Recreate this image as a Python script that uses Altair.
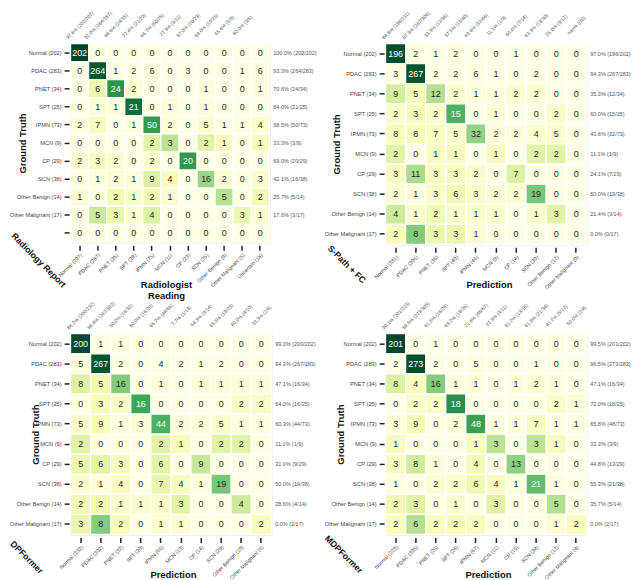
import altair as alt
import pandas as pd

FONT = "Liberation Sans"
NAME_FONT = "Liberation Sans Narrow, Liberation Sans"

ROW_NAMES = ["Normal (202)", "PDAC (283)", "PNET (34)", "SPT (25)", "IPMN (73)", "MCN (9)",
             "CP (29)", "SCN (38)", "Other Benign (14)", "Other Malignant (17)"]

YLGN_STOPS = [0, 0.125, 0.25, 0.375, 0.5, 0.625, 0.75, 0.875, 1]
YLGN_COLORS = ["#ffffe5", "#f7fcb9", "#d9f0a3", "#addd8e", "#78c679",
               "#41ab5d", "#238443", "#006837", "#004529"]

# ---------------- Panel 1: Radiology Report ----------------
p1_rows = ROW_NAMES + [" "]
p1_cols = ["Normal (207)", "PDAC (287)", "PNET (35)", "SPT (29)", "IPMN (75)", "MCN (11)",
           "CP (23)", "SCN (25)", "Other Benign (9)", "Other Malignant (5)", "Uncertain (18)"]
p1_values = [
    [202, 0, 0, 0, 0, 0, 0, 0, 0, 0, 0],
    [0, 264, 1, 2, 6, 0, 3, 0, 0, 1, 6],
    [0, 6, 24, 2, 0, 0, 0, 1, 0, 0, 1],
    [0, 1, 1, 21, 0, 1, 0, 1, 0, 0, 0],
    [2, 7, 0, 1, 50, 2, 0, 5, 1, 1, 4],
    [0, 0, 0, 0, 2, 3, 0, 2, 1, 0, 1],
    [2, 3, 2, 0, 2, 0, 20, 0, 0, 0, 0],
    [0, 1, 2, 1, 9, 4, 0, 16, 2, 0, 3],
    [1, 0, 2, 1, 2, 1, 0, 0, 5, 0, 2],
    [0, 5, 3, 1, 4, 0, 0, 0, 0, 3, 1],
    [0, 0, 0, 0, 0, 0, 0, 0, 0, 0, 0],
]
p1_recall = ["100.0% (202/202)", "93.3% (264/283)", "70.6% (24/34)", "84.0% (21/25)",
             "68.5% (50/73)", "33.3% (3/9)", "69.0% (20/29)", "42.1% (16/38)",
             "35.7% (5/14)", "17.6% (3/17)"]
p1_precision = ["97.6% (202/207)", "92.0% (264/287)", "68.6% (24/35)", "72.4% (21/29)",
                "66.7% (50/75)", "27.3% (3/11)", "87.0% (20/23)", "64.0% (16/25)",
                "55.6% (5/9)", "60.0% (3/5)"]

# ---------------- Panel 2: S-Path + FC ----------------
p2_cols = ["Normal (231)", "PDAC (306)", "PNET (36)", "SPT (40)", "IPMN (46)", "MCN (9)",
           "CP (14)", "SCN (30)", "Other Benign (12)", "Other Malignant (0)"]
p2_values = [
    [196, 2, 1, 2, 0, 0, 1, 0, 0, 0],
    [3, 267, 2, 2, 6, 1, 0, 2, 0, 0],
    [9, 5, 12, 2, 1, 1, 2, 2, 0, 0],
    [2, 3, 2, 15, 0, 1, 0, 0, 2, 0],
    [8, 8, 7, 5, 32, 2, 2, 4, 5, 0],
    [2, 0, 1, 1, 0, 1, 0, 2, 2, 0],
    [3, 11, 3, 3, 2, 0, 7, 0, 0, 0],
    [2, 1, 3, 6, 3, 2, 2, 19, 0, 0],
    [4, 1, 2, 1, 1, 1, 0, 1, 3, 0],
    [2, 8, 3, 3, 1, 0, 0, 0, 0, 0],
]
p2_recall = ["97.0% (196/202)", "94.3% (267/283)", "35.3% (12/34)", "60.0% (15/25)",
             "43.8% (32/73)", "11.1% (1/9)", "24.1% (7/29)", "50.0% (19/38)",
             "21.4% (3/14)", "0.0% (0/17)"]
p2_precision = ["84.8% (196/231)", "87.3% (267/306)", "33.3% (12/36)", "37.5% (15/40)",
                "69.6% (32/46)", "11.1% (1/9)", "50.0% (7/14)", "63.3% (19/30)",
                "25.0% (3/12)", "nan% (0/0)"]

# ---------------- Panel 3: DPFormer ----------------
p3_cols = ["Normal (232)", "PDAC (302)", "PNET (32)", "SPT (20)", "IPMN (66)", "MCN (13)",
           "CP (14)", "SCN (29)", "Other Benign (10)", "Other Malignant (6)"]
p3_values = [
    [200, 1, 1, 0, 0, 0, 0, 0, 0, 0],
    [5, 267, 2, 0, 4, 2, 1, 2, 0, 0],
    [8, 5, 16, 0, 1, 0, 1, 1, 1, 1],
    [0, 3, 2, 16, 0, 0, 0, 0, 2, 2],
    [5, 9, 1, 3, 44, 2, 2, 5, 1, 1],
    [2, 0, 0, 0, 2, 1, 0, 2, 2, 0],
    [5, 6, 3, 0, 6, 0, 9, 0, 0, 0],
    [2, 1, 4, 0, 7, 4, 1, 19, 0, 0],
    [2, 2, 1, 1, 1, 3, 0, 0, 4, 0],
    [3, 8, 2, 0, 1, 1, 0, 0, 0, 2],
]
p3_recall = ["99.0% (200/202)", "94.3% (267/283)", "47.1% (16/34)", "64.0% (16/25)",
             "60.3% (44/73)", "11.1% (1/9)", "31.0% (9/29)", "50.0% (19/38)",
             "28.6% (4/14)", "0.0% (2/17)"]
p3_precision = ["86.2% (200/232)", "88.4% (267/302)", "50.0% (16/32)", "80.0% (16/20)",
                "66.7% (44/66)", "7.7% (1/13)", "64.3% (9/14)", "65.5% (19/29)",
                "40.0% (4/10)", "33.3% (2/6)"]

# ---------------- Panel 4: MDPFormer ----------------
p4_cols = ["Normal (223)", "PDAC (305)", "PNET (26)", "SPT (26)", "IPMN (67)", "MCN (11)",
           "CP (16)", "SCN (34)", "Other Benign (12)", "Other Malignant (4)"]
p4_values = [
    [201, 0, 1, 0, 0, 0, 0, 0, 0, 0],
    [2, 273, 2, 0, 5, 0, 0, 1, 0, 0],
    [8, 4, 16, 1, 1, 0, 1, 2, 1, 0],
    [0, 2, 2, 18, 0, 0, 0, 0, 2, 1],
    [3, 9, 0, 2, 48, 1, 1, 7, 1, 1],
    [1, 0, 0, 0, 1, 3, 0, 3, 1, 0],
    [3, 8, 1, 0, 4, 0, 13, 0, 0, 0],
    [1, 0, 2, 2, 6, 4, 1, 21, 1, 0],
    [2, 3, 0, 1, 0, 3, 0, 0, 5, 0],
    [2, 6, 2, 2, 2, 0, 0, 0, 1, 2],
]
p4_recall = ["99.5% (201/202)", "96.5% (273/283)", "47.1% (16/34)", "72.0% (18/25)",
             "65.8% (48/73)", "33.3% (3/9)", "44.8% (13/29)", "55.3% (21/38)",
             "35.7% (5/14)", "0.0% (2/17)"]
p4_precision = ["90.1% (201/223)", "89.5% (273/305)", "61.5% (16/26)", "69.2% (18/26)",
                "71.6% (48/67)", "27.3% (3/11)", "81.2% (13/16)", "61.8% (21/34)",
                "41.7% (5/12)", "50.0% (2/4)"]


def panel(rows, cols, values, recall, precision, w, h, name, name_dx, name_dy,
          xtitle, xtitle_x, xtitle_y, ytitle_x):
    recs = []
    for i, r in enumerate(rows):
        tot = sum(values[i])
        for j, c in enumerate(cols):
            v = values[i][j]
            recs.append({"row": r, "col": c, "v": v, "p": (v / tot) if tot else 0.0})
    df = pd.DataFrame(recs)

    xscale = alt.Scale(domain=cols, paddingInner=0, paddingOuter=0)
    yscale = alt.Scale(domain=rows, paddingInner=0, paddingOuter=0)
    xaxis = alt.Axis(
        orient="bottom", labelAngle=315, labelFontSize=5.3, labelColor="#444",
        labelFont=FONT, tickSize=5, tickWidth=1.5, tickColor="#222", domain=False,
        offset=3, labelPadding=2, title=xtitle, titleFont=FONT, titleFontSize=9.5,
        titleFontWeight="bold", titleColor="#111", titleX=xtitle_x, titleY=xtitle_y,
        titleAlign="center", titleBaseline="middle", titleLineHeight=12,
    )
    yaxis = alt.Axis(
        orient="left", labelFontSize=5.7, labelColor="#444", labelFont=FONT,
        tickSize=5, tickWidth=1.5, tickColor="#222", domain=False, offset=1.5,
        labelPadding=3, title="Ground Truth", titleFont=FONT, titleFontSize=9.5,
        titleFontWeight="bold", titleColor="#111", titleAngle=270, titleX=ytitle_x,
        titleY=h / 2, titleAlign="center", titleBaseline="middle",
    )
    x = alt.X("col:N", scale=xscale, axis=xaxis)
    y = alt.Y("row:N", scale=yscale, axis=yaxis)

    base = alt.Chart(df)
    rect = base.mark_rect(stroke="white", strokeWidth=1.2).encode(
        x=x, y=y,
        color=alt.Color("p:Q", scale=alt.Scale(domain=YLGN_STOPS, range=YLGN_COLORS),
                        legend=None),
    )
    txt = base.mark_text(font=FONT, fontSize=9, baseline="middle").encode(
        x=x, y=y,
        text="v:Q",
        color=alt.condition(alt.datum.p > 0.52, alt.value("white"), alt.value("#262626")),
    )
    rec_df = pd.DataFrame({"row": rows[:len(recall)], "lab": recall})
    rec = alt.Chart(rec_df).mark_text(
        align="left", baseline="middle", font=FONT, fontSize=5.5, color="#555"
    ).encode(y=y, x=alt.value(w + 4), text="lab:N")
    pre_df = pd.DataFrame({"col": cols[:len(precision)], "lab": precision})
    pre = alt.Chart(pre_df).mark_text(
        align="center", baseline="middle", angle=315, font=FONT, fontSize=5.0,
        color="#555",
    ).encode(x=x, y=alt.value(-18.5), text="lab:N")
    nm = alt.Chart(pd.DataFrame({"n": [name]})).mark_text(
        angle=45, font=NAME_FONT, fontSize=8.8, fontWeight="bold", align="center",
        baseline="middle", color="#111",
    ).encode(x=alt.value(name_dx), y=alt.value(h + name_dy), text="n:N")
    return alt.layer(rect, txt, rec, pre, nm).properties(width=w, height=h)


p1 = panel(p1_rows, p1_cols, p1_values, p1_recall, p1_precision, 200, 200,
           "Radiology Report", -32, 18, ["Radiologist", "Reading"], 96, 39, -47)
p2 = panel(ROW_NAMES, p2_cols, p2_values, p2_recall, p2_precision, 202, 202,
           "S-Path + FC", -39, 20, "Prediction", 104, 37, -48)
p3 = panel(ROW_NAMES, p3_cols, p3_values, p3_recall, p3_precision, 202, 202,
           "DPFormer", -44, 23, "Prediction", 103, 37, -34)
p4 = panel(ROW_NAMES, p4_cols, p4_values, p4_recall, p4_precision, 202, 202,
           "MDPFormer", -42, 20, "Prediction", 103, 37, -44)

chart = alt.concat(
    p1, p2, p3, p4, columns=2, bounds="flush",
    spacing=alt.RowColnumber(row=90, column=115),
).properties(padding=0, background="white").configure_view(strokeWidth=0).configure(font=FONT)

chart.save("out.html", embed_options={"renderer": "svg", "actions": False})
